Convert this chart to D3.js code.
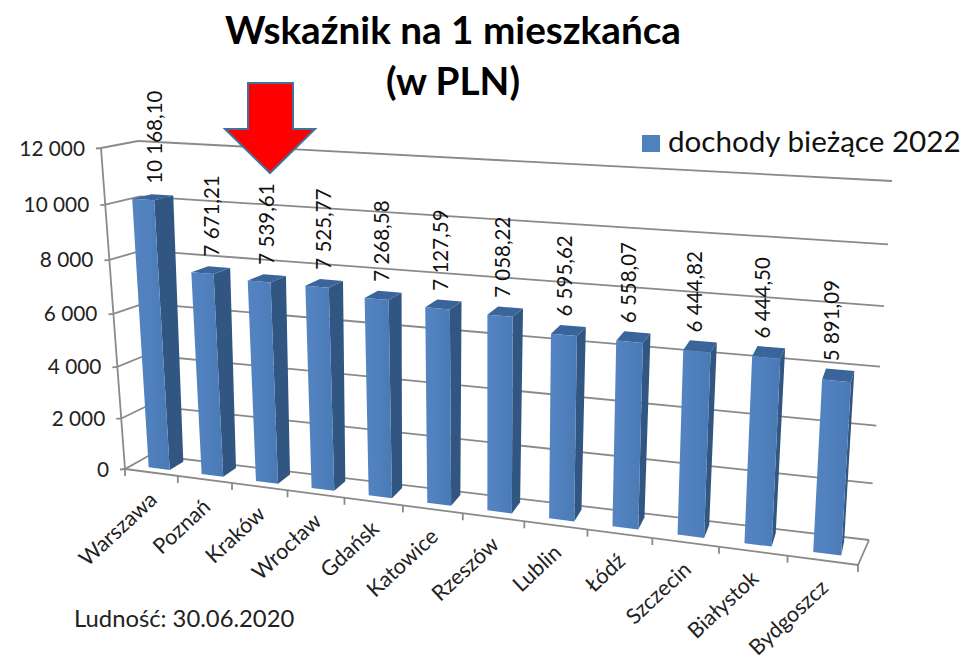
<!DOCTYPE html>
<html><head><meta charset="utf-8">
<script src="https://cdnjs.cloudflare.com/ajax/libs/d3/7.8.5/d3.min.js"></script>
<style>html,body{margin:0;background:#fff}svg{display:block}text{font-family:Lato,"Open Sans",sans-serif;fill:#111}</style>
</head><body><div id="c"></div>
<script>
const categories=["Warszawa","Poznań","Kraków","Wrocław","Gdańsk","Katowice","Rzeszów","Lublin","Łódź","Szczecin","Białystok","Bydgoszcz"];
const values=[10168.10,7671.21,7539.61,7525.77,7268.58,7127.59,7058.22,6595.62,6558.07,6444.82,6444.50,5891.09];
const valueLabels=["10 168,10","7 671,21","7 539,61","7 525,77","7 268,58","7 127,59","7 058,22","6 595,62","6 558,07","6 444,82","6 444,50","5 891,09"];
const yTicks=[0,2000,4000,6000,8000,10000,12000];
const yTickLabels=["0","2 000","4 000","6 000","8 000","10 000","12 000"];
const seriesName="dochody bieżące 2022";
const titleLines=["Wskaźnik na 1 mieszkańca","(w PLN)"];
const note="Ludność: 30.06.2020";

const W=969,H=659;
const svg=d3.select("#c").append("svg").attr("width",W).attr("height",H);
const defs=svg.append("defs");
const g=defs.append("linearGradient").attr("id","front");
g.append("stop").attr("offset",0).attr("stop-color","#5485c2");
g.append("stop").attr("offset",1).attr("stop-color","#4a7ab6");

// Box corners of the 3D plot: [front/back][left/right][bottom/top]
const box={flb:[125,469],frb:[858,565],blb:[150,455],brb:[869,540],flt:[101,148],frt:[879,195],blt:[138,141],brt:[892,181]};
const warp=(t,r)=>t/(t+(1-t)*r);
const xScale=d3.scaleLinear().domain([0,categories.length]).range([0,1]);
const yScale=d3.scaleLinear().domain([0,12000]).range([0,1]);
const lerp=(a,b,t)=>[a[0]+(b[0]-a[0])*t,a[1]+(b[1]-a[1])*t];
function project(cat,depth,val){
  const u=warp(xScale(cat),1.17),w=warp(yScale(val),1.07);
  const fb=lerp(box.flb,box.frb,u),ft=lerp(box.flt,box.frt,u),bb=lerp(box.blb,box.brb,u),bt=lerp(box.blt,box.brt,u);
  return lerp(lerp(fb,ft,w),lerp(bb,bt,w),depth);
}
const line=d3.line();
const GRID="#8a8a8a",n=categories.length;
const stroke=(sel)=>sel.attr("fill","none").attr("stroke",GRID).attr("stroke-width",1.8);
const grid=svg.append("g");
yTicks.forEach((t,i)=>{
  stroke(grid.append("path").attr("d",line([project(0,1,t),project(n,1,t)])));
  const p=project(0,0,t);
  stroke(grid.append("path").attr("d",line([[p[0]-5,p[1]+.5],p,project(0,1,t)])));
  svg.append("text").attr("x",p[0]-16).attr("y",p[1]+7.5).attr("text-anchor","end").attr("font-size",20.8).style("fill","#222").text(yTickLabels[i]);
});
stroke(grid.append("path").attr("d",line([project(0,0,0),project(0,0,12000)])));
stroke(grid.append("path").attr("d",line([project(0,0,0),project(n,0,0),project(n,1,0)])));
d3.range(0,n+1).forEach(i=>{
  const p=project(i,0,0);
  stroke(grid.append("path").attr("d",line([p,[p[0],p[1]+7]])));
});
// bars
const BL=.32,BR=.72,DF=.28,DB=.84;
const backShift=d3.scaleLinear().domain([0,n-1]).range([0,-.05]);
const bars=svg.append("g").selectAll("g").data(values).join("g");
bars.each(function(v,i){
  const s=d3.select(this);
  const k=backShift(i);
  const a=project(i+BL,DF,0),b=project(i+BR,DF,0),c=project(i+BR,DF,v),d=project(i+BL,DF,v);
  const e=project(i+BR+k,DB,0),f=project(i+BR+k,DB,v),h=project(i+BL+k,DB,v);
  s.append("path").attr("d",line([b,e,f,c])+"Z").attr("fill","#325682");
  s.append("path").attr("d",line([d,c,f,h])+"Z").attr("fill","#3a659b");
  s.append("path").attr("d",line([a,b,c,d])+"Z").attr("fill","url(#front)");
});
// value labels
const labelDx=d3.scaleLinear().domain([0,n-1]).range([7,-2]);
svg.append("g").selectAll("text").data(values).join("text")
 .attr("transform",(v,i)=>{const p=project(i+(BL+BR)/2,.62,v);return `translate(${p[0]+labelDx(i)},${p[1]-13}) rotate(-90)`;})
 .attr("font-size",20.5).style("fill","#111").text((v,i)=>valueLabels[i]);
// category labels
svg.append("g").selectAll("text").data(categories).join("text")
 .attr("transform",(c,i)=>{const p=project(i+.5,0,0);return `translate(${p[0]+7},${p[1]+29}) rotate(-43)`;})
 .attr("text-anchor","end").attr("font-size",21.5).style("fill","#222").text(c=>c);
// title
svg.selectAll("text.t").data(titleLines).join("text").attr("class","t").attr("x",453).attr("y",(d,i)=>44+i*51)
 .attr("text-anchor","middle").attr("font-size",38.7).attr("font-weight",700).style("fill","#000").text(d=>d);
// legend
svg.append("rect").attr("x",642).attr("y",135).attr("width",18).attr("height",17).attr("fill","#4f81bd");
svg.append("text").attr("x",668).attr("y",152).attr("font-size",29.6).text(seriesName);
svg.append("text").attr("x",74).attr("y",627).attr("font-size",23.8).style("fill","#222").text(note);
// arrow
svg.append("path").attr("d",line([[248,83],[293,83],[293,129],[315,129],[270,173],[225,129],[248,129]])+"Z")
 .attr("fill","#ff0000").attr("stroke","#41719c").attr("stroke-width",2);
</script></body></html>
